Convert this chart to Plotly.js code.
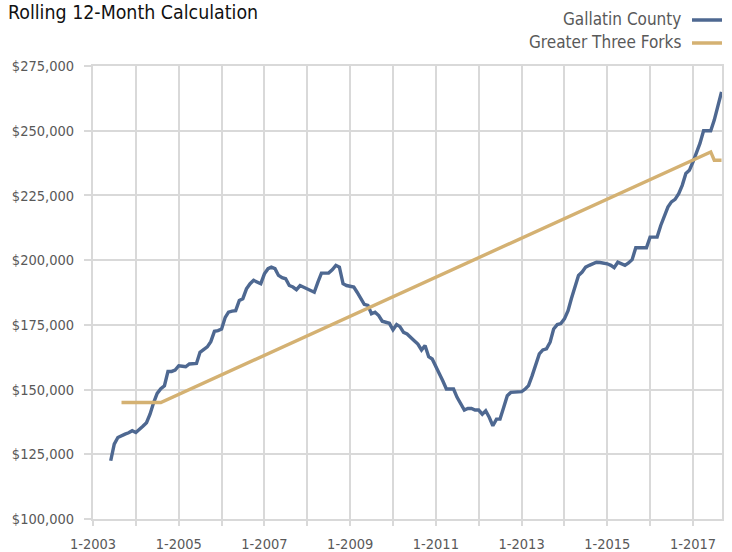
<!DOCTYPE html>
<html>
<head>
<meta charset="utf-8">
<script src="https://cdn.plot.ly/plotly-3.0.1.min.js"></script>
<style>
  html, body { margin: 0; padding: 0; background: #ffffff; }
  #chart { width: 732px; height: 552px; }
</style>
</head>
<body>
<div id="chart"></div>
<script>
// ---- Data ----
const chartTitle = "Rolling 12-Month Calculation";
const seriesNames = ["Gallatin County", "Greater Three Forks"];

// Gallatin County: monthly rolling 12-month values, starting June 2003
const gallatinStart = [2003, 6];
const gallatinValues = [
  // 2003 Jun-Dec
  122500, 128900, 131500, 132300, 132800, 133300, 134100,
  // 2004
  133400, 134500, 135800, 137200, 140500, 145000, 148500, 150300, 151500, 157000, 157000, 157500,
  // 2005
  159200, 159000, 158800, 159900, 160000, 160100, 164400, 165400, 166500, 168500, 172500, 172800,
  // 2006
  173400, 177900, 179900, 180300, 180500, 184400, 185100, 188900, 190900, 192200, 191500, 190900,
  // 2007
  194700, 196700, 197300, 196700, 194100, 193200, 192800, 190200, 189600, 188600, 190200, 189600,
  // 2008
  189000, 188300, 187600, 191500, 195000, 195000, 195000, 196300, 198000, 197300, 190900, 190200,
  // 2009
  190000, 189600, 187600, 185100, 182900, 182500, 179300, 179900, 178600, 176400, 176000, 175600,
  // 2010
  173100, 175100, 174300, 172100, 171500, 170000, 168900, 167600, 165300, 167000, 162700, 161800,
  // 2011
  159200, 156000, 153400, 150200, 150200, 150200, 147000, 144500, 142100, 142700, 142700, 142100,
  // 2012
  142100, 140500, 141800, 139200, 136000, 138600, 138600, 143100, 147600, 148900, 149100, 149200,
  // 2013
  149200, 150200, 151500, 155400, 159900, 163800, 165300, 165700, 168300, 173400, 175100, 175500,
  // 2014
  177300, 180500, 185100, 189600, 194100, 195400, 197300, 198000, 198600, 199200, 199100, 198900,
  // 2015
  198600, 198000, 197100, 199200, 198600, 198000, 198900, 200200, 204800, 204800, 204800, 204800,
  // 2016
  208900, 208900, 208900, 213400, 217300, 220500, 222500, 223500, 225700, 228900, 233500, 234700,
  // 2017 Jan-Sep
  238000, 241800, 245100, 250000, 250000, 250000, 254100, 259900, 265000
];

// Greater Three Forks: sparse points (line is connected between them)
const threeForksDates = ["2003-09-01", "2004-08-01", "2017-06-01", "2017-07-01", "2017-09-01"];
const threeForksValues = [145000, 145000, 241800, 238600, 238600];

// Axis settings
const xRange = ["2003-01-01", "2017-09-05"];
const yRange = [100000, 275000];
const yStep = 25000;

// ---- Build the month dates for the Gallatin series ----
function monthDates(start, n) {
  const out = [];
  let y = start[0], m = start[1];
  for (let i = 0; i < n; i++) {
    out.push(y + "-" + String(m).padStart(2, "0") + "-01");
    m++;
    if (m > 12) { m = 1; y++; }
  }
  return out;
}
const gallatinDates = monthDates(gallatinStart, gallatinValues.length);

// ---- Styles ----
const BLUE = "#4e6891";
const TAN = "#d4b172";
const GRID = "#d9d9d9";
const LABEL = "#595959";
const FONT = "'Liberation Sans Narrow', 'Arial Narrow', 'DejaVu Sans Condensed', sans-serif";

const W = 732, H = 552;
const M = { l: 93, r: 10, t: 66, b: 33 };
const PW = W - M.l - M.r, PH = H - M.t - M.b;
const px = (x) => (x - M.l) / PW;       // container px -> paper x
const py = (y) => 1 + (M.t - y) / PH;    // container px -> paper y

const traces = [
  {
    x: gallatinDates, y: gallatinValues, type: "scatter", mode: "lines",
    name: seriesNames[0], line: { color: BLUE, width: 3.4 }, hoverinfo: "x+y"
  },
  {
    x: threeForksDates, y: threeForksValues, type: "scatter", mode: "lines",
    name: seriesNames[1], line: { color: TAN, width: 3.4 }, connectgaps: true, hoverinfo: "x+y"
  }
];

const layout = {
  width: W, height: H,
  paper_bgcolor: "#ffffff", plot_bgcolor: "#ffffff",
  margin: M,
  showlegend: false,
  font: { family: FONT, color: LABEL, size: 14.5 },
  title: {
    text: chartTitle,
    font: { family: FONT, size: 19.4, color: "#111111" },
    xref: "container", yref: "container",
    x: 8 / W, xanchor: "left",
    y: 1 - 12 / H, yanchor: "middle"
  },
  xaxis: {
    type: "date",
    range: xRange,
    tick0: "2003-01-01",
    dtick: "M24",
    tickformat: "%-m-%Y",
    showgrid: true, gridcolor: GRID, gridwidth: 2,
    showline: true, linecolor: GRID, linewidth: 2, mirror: true,
    ticks: "outside", ticklen: 5, tickcolor: GRID, tickwidth: 2,
    ticklabelstandoff: 6,
    tickfont: { family: FONT, size: 14.5, color: LABEL },
    minor: { dtick: "M12", showgrid: true, gridcolor: GRID, gridwidth: 2, ticks: "outside", ticklen: 5, tickcolor: GRID, tickwidth: 2 },
    zeroline: false, fixedrange: true
  },
  yaxis: {
    range: yRange,
    dtick: yStep,
    tickformat: "$,.0f",
    showgrid: true, gridcolor: GRID, gridwidth: 2,
    showline: true, linecolor: GRID, linewidth: 2, mirror: true,
    ticks: "outside", ticklen: 7, tickcolor: GRID, tickwidth: 2,
    ticklabelstandoff: 7,
    tickfont: { family: FONT, size: 14.5, color: LABEL },
    zeroline: false, fixedrange: true
  },
  annotations: [
    { text: seriesNames[0], xref: "paper", yref: "paper", x: px(683), y: py(19),
      xanchor: "right", yanchor: "middle", showarrow: false,
      font: { family: FONT, size: 17, color: LABEL } },
    { text: seriesNames[1], xref: "paper", yref: "paper", x: px(683), y: py(42),
      xanchor: "right", yanchor: "middle", showarrow: false,
      font: { family: FONT, size: 17, color: LABEL } }
  ],
  shapes: [
    { type: "line", xref: "paper", yref: "paper",
      x0: px(692), x1: px(722), y0: py(20), y1: py(20),
      line: { color: BLUE, width: 3.5 } },
    { type: "line", xref: "paper", yref: "paper",
      x0: px(692), x1: px(722), y0: py(43), y1: py(43),
      line: { color: TAN, width: 3.5 } }
  ]
};

Plotly.newPlot("chart", traces, layout, { displayModeBar: false, responsive: false, staticPlot: true });
</script>
</body>
</html>
